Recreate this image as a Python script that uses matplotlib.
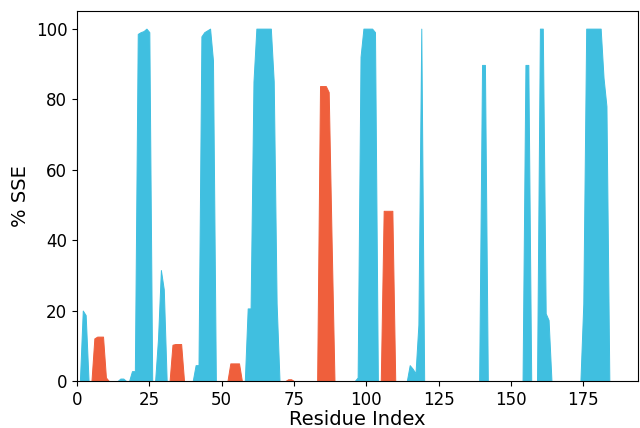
import numpy as np
import matplotlib
matplotlib.use('Agg')
import matplotlib.pyplot as plt

# per-residue secondary structure (% of frames), residues 1..184
residues = np.arange(1, 185)

helix = [
    0, 0, 0, 0, 0, 12.1, 12.6, 12.6, 12.6, 1,          # 1-10
    0, 0, 0, 0, 0, 0, 0, 0, 0, 0,                      # 11-20
    0, 0, 0, 0, 0, 0, 0, 0, 0, 0,                      # 21-30
    0, 0, 10.3, 10.5, 10.5, 10.5, 0, 0, 0, 0,          # 31-40
    0, 0, 0, 0, 0, 0, 0, 0, 0, 0,                      # 41-50
    0, 0, 5, 5, 5, 5, 0, 0, 0, 0,                      # 51-60
    0, 0, 0, 0, 0, 0, 0, 0, 0, 0,                      # 61-70
    0, 0, 0.5, 0.5, 0, 0, 0, 0, 0, 0,                  # 71-80
    0, 0, 0, 83.7, 83.7, 83.7, 82, 40, 0, 0,           # 81-90
    0, 0, 0, 0, 0, 0, 0, 0, 0, 0,                      # 91-100
    0, 0, 0, 0, 0, 48.3, 48.3, 48.3, 48.3, 0,          # 101-110
    0, 0, 0, 0, 0, 0, 0, 0, 0, 0,                      # 111-120
    0, 0, 0, 0, 0, 0, 0, 0, 0, 0,                      # 121-130
    0, 0, 0, 0, 0, 0, 0, 0, 0, 0,                      # 131-140
    0, 0, 0, 0, 0, 0, 0, 0, 0, 0,                      # 141-150
    0, 0, 0, 0, 0, 0, 0, 0, 0, 0,                      # 151-160
    0, 0, 0, 0, 0, 0, 0, 0, 0, 0,                      # 161-170
    0, 0, 0, 0, 0, 0, 0, 0, 0, 0,                      # 171-180
    0, 0, 0, 0,                                        # 181-184
]

strand = [
    0, 20, 18.7, 0, 0, 0, 0, 0, 0, 0,                  # 1-10
    0, 0, 0, 0, 0.7, 0.7, 0, 0, 2.8, 2.8,              # 11-20
    98.5, 99, 99.3, 100, 99, 0, 0, 12, 31.5, 26,       # 21-30
    0, 0, 0, 0, 0, 0, 0, 0, 0, 0,                      # 31-40
    4.5, 4.5, 97.8, 99, 99.5, 100, 91, 0, 0, 0,        # 41-50
    0, 0, 0, 0, 0, 0, 0, 0, 20.6, 20.6,                # 51-60
    85, 100, 100, 100, 100, 100, 100, 85, 22, 0,       # 61-70
    0, 0, 0, 0, 0, 0, 0, 0, 0, 0,                      # 71-80
    0, 0, 0, 0, 0, 0, 0, 0, 0, 0,                      # 81-90
    0, 0, 0, 0, 0, 0, 1, 92, 100, 100,                 # 91-100
    100, 100, 99, 0, 0, 0, 0, 0, 0, 0,                 # 101-110
    0, 0, 0, 0, 4.5, 3.5, 2.2, 16, 100, 0,             # 111-120
    0, 0, 0, 0, 0, 0, 0, 0, 0, 0,                      # 121-130
    0, 0, 0, 0, 0, 0, 0, 0, 0, 89.7,                   # 131-140
    89.7, 0, 0, 0, 0, 0, 0, 0, 0, 0,                   # 141-150
    0, 0, 0, 0, 89.7, 89.7, 0, 0, 0, 100,              # 151-160
    100, 19.2, 17.3, 0, 0, 0, 0, 0, 0, 0,              # 161-170
    0, 0, 0, 0, 22, 100, 100, 100, 100, 100,           # 171-180
    100, 86, 78, 0,                                    # 181-184
]

helix_color = '#ef5f3c'
strand_color = '#40bfe0'

fig = plt.figure(figsize=(6.4, 4.28), dpi=100)
ax = fig.add_axes([0.1203, 0.1098, 0.877, 0.8645])

ax.fill_between(residues, strand, 0, facecolor=strand_color, edgecolor=strand_color, linewidth=0.7)
ax.fill_between(residues, helix, 0, facecolor=helix_color, edgecolor=helix_color, linewidth=0.7)

ax.set_xlim(0, 194)
ax.set_ylim(0, 105)
ax.set_xticks([0, 25, 50, 75, 100, 125, 150, 175])
ax.set_yticks([0, 20, 40, 60, 80, 100])
ax.tick_params(labelsize=12)
ax.set_xlabel('Residue Index', fontsize=14, labelpad=1)
ax.set_ylabel('% SSE', fontsize=14)

fig.savefig('out.png', dpi=100)
